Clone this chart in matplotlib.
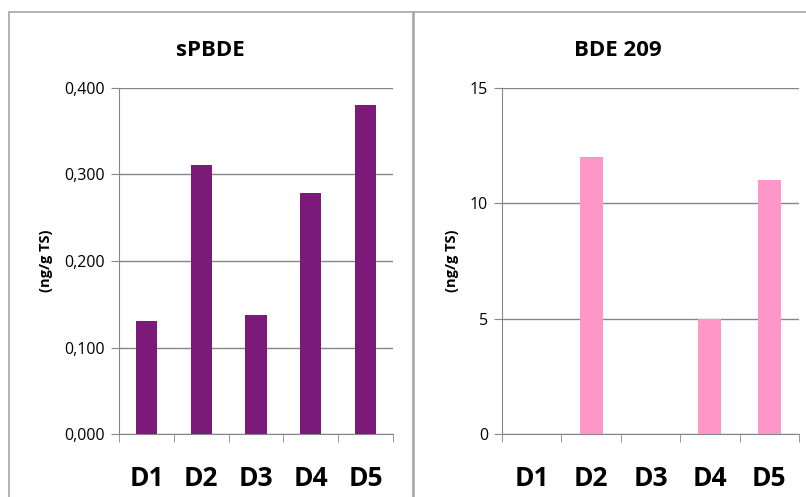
import matplotlib
matplotlib.use('Agg')
import matplotlib.pyplot as plt
from matplotlib.patches import Rectangle
from matplotlib.ticker import FuncFormatter

plt.rcParams['font.family'] = ['Open Sans', 'DejaVu Sans']

sites = ['D1', 'D2', 'D3', 'D4', 'D5']
spbde = [0.131, 0.311, 0.138, 0.279, 0.380]
bde209 = [0, 12.0, 0, 5.0, 11.0]

W, H = 806, 497
fig = plt.figure(figsize=(W / 100, H / 100), dpi=100)

def box(x0, y0, x1, y1):
    # pixel coords (top-left origin) -> figure fraction
    return [x0 / W, 1 - y1 / H, (x1 - x0) / W, (y1 - y0) / H]

# chart frames
for x0, x1 in [(9, 413), (414, 812)]:
    fig.patches.append(Rectangle((x0 / W, -0.05), (x1 - x0) / W, 1 - 12 / H + 0.05,
                                 transform=fig.transFigure, fill=False,
                                 edgecolor='#a6a6a6', linewidth=1.2))

def panel(rect, values, color, ymax, step, fmt, title, title_x):
    ax = fig.add_axes(box(*rect))
    x = range(len(values))
    ax.bar(x, values, width=0.39, color=color, zorder=3)
    ax.set_xlim(-0.5, len(values) - 0.5)
    ax.set_ylim(0, ymax)
    ax.set_yticks([i * step for i in range(int(round(ymax / step)) + 1)])
    ax.yaxis.set_major_formatter(FuncFormatter(fmt))
    ax.set_xticks(list(x))
    ax.set_xticklabels(sites, fontsize=19, fontweight='bold')
    ax.set_xticks([i - 0.5 for i in range(len(values) + 1)], minor=True)
    ax.tick_params(axis='x', which='major', length=0, pad=22)
    ax.tick_params(axis='x', which='minor', length=6, color='#868686', direction='out')
    ax.tick_params(axis='y', length=6, color='#868686', labelsize=11.5, pad=4)
    ax.grid(axis='y', color='#868686', linewidth=1, zorder=0)
    for s in ['top', 'right']:
        ax.spines[s].set_visible(False)
    for s in ['left', 'bottom']:
        ax.spines[s].set_color('#868686')
    ax.set_ylabel('(ng/g TS)', fontsize=10.5, fontweight='bold', labelpad=8)
    fig.text(title_x / W, 1 - 51 / H, title, ha='center', va='center',
             fontsize=16, fontweight='bold')
    return ax

panel((119, 88, 393, 434), spbde, '#7b1a78', 0.4, 0.1,
      lambda v, p: f'{v:.3f}'.replace('.', ','), 'sPBDE', 210)
panel((502, 88, 799, 434), bde209, '#ff96c8', 15, 5,
      lambda v, p: f'{v:.0f}', 'BDE 209', 618)

plt.savefig('out.png', dpi=100)
